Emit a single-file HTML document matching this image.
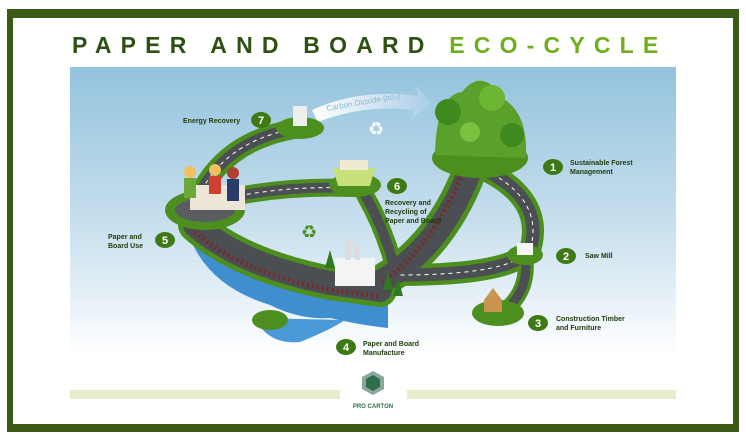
<!DOCTYPE html>
<html><head><style>
body{margin:0;width:746px;height:441px;background:#fff;overflow:hidden;font-family:"Liberation Sans",sans-serif}
</style></head><body>
<svg width="746" height="441" viewBox="0 0 746 441" xmlns="http://www.w3.org/2000/svg">
<defs>
<linearGradient id="sky" x1="0" y1="0" x2="0" y2="1">
<stop offset="0" stop-color="#93c3dd"/><stop offset="0.55" stop-color="#c9e0ee"/><stop offset="1" stop-color="#ffffff"/>
</linearGradient>
<linearGradient id="arrow" x1="0" y1="0" x2="1" y2="0">
<stop offset="0" stop-color="#ffffff"/><stop offset="1" stop-color="#a9cde6"/>
</linearGradient>
</defs>
<rect x="0" y="0" width="746" height="441" fill="#fff"/>
<rect x="7" y="9" width="732" height="423" fill="#3a5a16"/>
<rect x="13" y="18" width="720" height="406" fill="#fff"/>
<text x="72" y="53" font-size="23" font-weight="bold" fill="#2e5012" letter-spacing="9.2">PAPER AND BOARD <tspan fill="#6fae1e">ECO-CYCLE</tspan></text>
<rect x="70" y="67" width="606" height="290" fill="url(#sky)"/>
<!-- CO2 arrow -->
<path d="M312 110 Q360 88 418 96 L416 86 L432 104 L412 118 L414 110 Q365 104 318 122 Z" fill="url(#arrow)"/>
<text x="327" y="111" font-size="8" fill="#8db5d6" transform="rotate(-10 327 111)">Carbon Dioxide (co₂)</text>

<!-- water -->
<path d="M188 232 Q205 285 270 305 Q300 320 330 318 Q360 325 388 328 L388 300 Q340 292 290 278 Q230 262 205 232 Z" fill="#3f8fd0"/>
<path d="M255 318 Q268 345 300 342 Q330 330 345 320 Z" fill="#4a9ad8"/>
<ellipse cx="270" cy="320" rx="18" ry="10" fill="#4d8f1f"/>

<!-- green road borders -->
<g fill="none" stroke="#4d8f1f" stroke-linecap="round">
<path d="M195 205 Q220 140 300 128" stroke-width="20"/>
<path d="M200 205 Q270 185 350 188" stroke-width="18"/>
<path d="M365 195 Q385 230 395 270" stroke-width="18"/>
<path d="M195 225 Q240 265 330 283 L380 290" stroke-width="34"/>
<path d="M375 285 Q440 250 470 170" stroke-width="34"/>
<path d="M485 170 Q545 200 530 250 Q510 275 400 275" stroke-width="22"/>
<path d="M525 255 Q530 290 505 310" stroke-width="16"/>
</g>
<g fill="none" stroke="#4b4e52" stroke-linecap="round">
<path d="M195 205 Q220 140 300 128" stroke-width="11"/>
<path d="M200 205 Q270 185 350 188" stroke-width="10"/>
<path d="M365 195 Q385 230 395 270" stroke-width="10"/>
<path d="M195 225 Q240 265 330 283 L380 290" stroke-width="24"/>
<path d="M375 285 Q440 250 470 170" stroke-width="24"/>
<path d="M485 170 Q545 200 530 250 Q510 275 400 275" stroke-width="13"/>
<path d="M525 255 Q530 290 505 310" stroke-width="9"/>
</g>
<g fill="none" stroke="#7a2a2a" stroke-dasharray="2 3">
<path d="M195 232 Q240 272 330 290 L378 296" stroke-width="5"/>
<path d="M382 282 Q430 250 462 175" stroke-width="5"/>
</g>
<g fill="none" stroke="#fff" stroke-dasharray="4 4" stroke-width="1">
<path d="M195 205 Q220 140 300 128"/>
<path d="M200 205 Q270 185 350 188"/>
<path d="M485 170 Q545 200 530 250 Q510 275 400 275"/>
</g>

<!-- islands / objects -->
<ellipse cx="300" cy="128" rx="24" ry="11" fill="#4d8f1f"/>
<rect x="293" y="106" width="14" height="20" fill="#eee"/>
<ellipse cx="355" cy="185" rx="26" ry="12" fill="#4d8f1f"/>
<path d="M333 168 L375 168 L370 186 L338 186 Z" fill="#c8e07a"/>
<rect x="340" y="160" width="28" height="10" fill="#f0ead0"/>
<ellipse cx="205" cy="210" rx="40" ry="20" fill="#4d8f1f"/>
<ellipse cx="205" cy="210" rx="30" ry="12" fill="#5a5d60"/>
<rect x="190" y="185" width="55" height="25" fill="#ece6d8"/>
<circle cx="190" cy="172" r="6" fill="#f0c060"/><rect x="184" y="178" width="12" height="20" fill="#6aa83a"/>
<circle cx="215" cy="170" r="6" fill="#f0c060"/><rect x="209" y="176" width="12" height="18" fill="#d04030"/>
<circle cx="233" cy="173" r="6" fill="#b04030"/><rect x="227" y="179" width="12" height="22" fill="#2a3a6a"/>
<rect x="335" y="258" width="40" height="28" fill="#f4f4f4"/>
<rect x="345" y="240" width="6" height="20" fill="#ddd"/><rect x="354" y="244" width="6" height="16" fill="#ddd"/>
<g fill="#2f7a1e"><path d="M325 268 l5 -18 l5 18z"/><path d="M383 290 l5 -18 l5 18z"/><path d="M393 296 l5 -18 l5 18z"/></g>
<ellipse cx="525" cy="255" rx="18" ry="10" fill="#4d8f1f"/>
<rect x="517" y="243" width="16" height="12" fill="#f4f4f4"/>
<ellipse cx="498" cy="313" rx="26" ry="13" fill="#4d8f1f"/>
<path d="M484 312 L484 300 L493 288 L502 300 L502 312 Z" fill="#c89450"/>
<!-- forest -->
<ellipse cx="480" cy="158" rx="48" ry="20" fill="#4d8f1f"/>
<path d="M435 155 Q436 95 462 92 Q482 66 505 100 Q528 115 526 158 Z" fill="#5aa02a"/>
<circle cx="448" cy="112" r="13" fill="#3f8a1e"/><circle cx="492" cy="98" r="13" fill="#6db634"/><circle cx="512" cy="135" r="12" fill="#3f8a1e"/>
<circle cx="470" cy="132" r="10" fill="#7cc040"/>
<text x="368" y="135" font-size="18" fill="#fff">♻</text>
<text x="301" y="238" font-size="18" fill="#4d8f1f">♻</text>
<!-- number badges -->
<g font-weight="bold" font-size="11" fill="#fff" text-anchor="middle">
<ellipse cx="261" cy="120" rx="10" ry="8" fill="#3d7a16"/><text x="261" y="124">7</text>
<ellipse cx="397" cy="186" rx="10" ry="8" fill="#3d7a16"/><text x="397" y="190">6</text>
<ellipse cx="165" cy="240" rx="10" ry="8" fill="#3d7a16"/><text x="165" y="244">5</text>
<ellipse cx="346" cy="347" rx="10" ry="8" fill="#3d7a16"/><text x="346" y="351">4</text>
<ellipse cx="538" cy="323" rx="10" ry="8" fill="#3d7a16"/><text x="538" y="327">3</text>
<ellipse cx="566" cy="256" rx="10" ry="8" fill="#3d7a16"/><text x="566" y="260">2</text>
<ellipse cx="553" cy="167" rx="10" ry="8" fill="#3d7a16"/><text x="553" y="171">1</text>
</g>
<g font-size="7" font-weight="bold" fill="#1e3a0c">
<text x="183" y="123">Energy Recovery</text>
<text x="385" y="205">Recovery and</text><text x="385" y="214">Recycling of</text><text x="385" y="223">Paper and Board</text>
<text x="108" y="239">Paper and</text><text x="108" y="248">Board Use</text>
<text x="363" y="346">Paper and Board</text><text x="363" y="355">Manufacture</text>
<text x="556" y="321">Construction Timber</text><text x="556" y="330">and Furniture</text>
<text x="585" y="258">Saw Mill</text>
<text x="570" y="165">Sustainable Forest</text><text x="570" y="174">Management</text>
</g>
<rect x="70" y="390" width="270" height="9" fill="#e6edcc"/>
<rect x="407" y="390" width="269" height="9" fill="#e6edcc"/>
<polygon points="373,371 384,377 384,389 373,395 362,389 362,377" fill="#8aa89a"/>
<polygon points="373,375 380,379 380,387 373,391 366,387 366,379" fill="#2f6e4a"/>
<text x="373" y="408" font-size="6" font-weight="bold" fill="#2f6e4a" text-anchor="middle">PRO CARTON</text>
</svg>
</body></html>
